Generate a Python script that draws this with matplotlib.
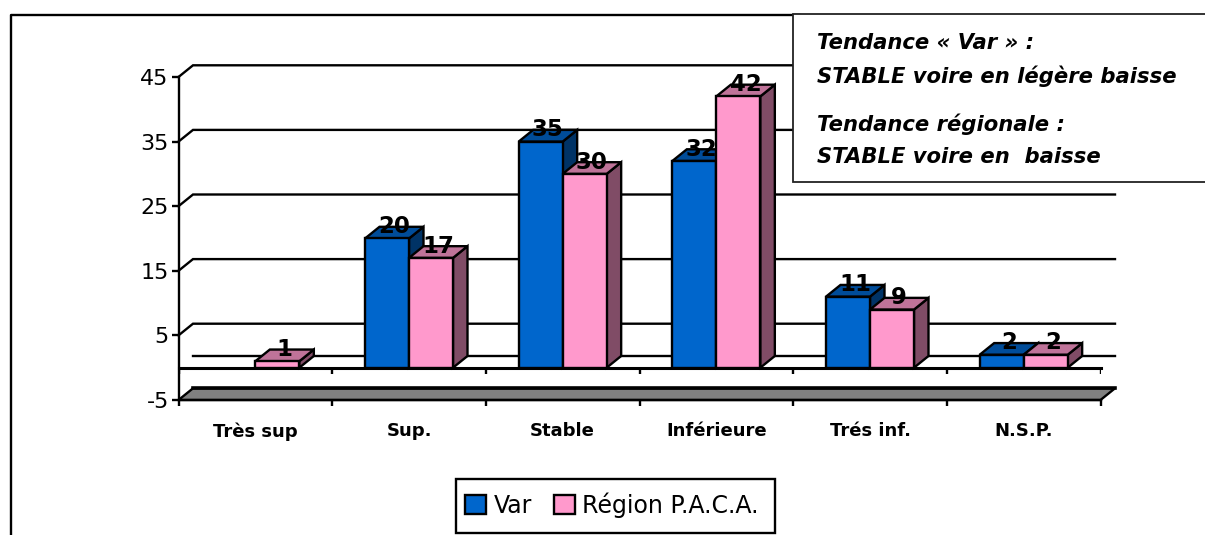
import matplotlib
matplotlib.use("Agg")
import matplotlib.pyplot as plt
from matplotlib.patches import Polygon, Patch, Rectangle
from matplotlib.lines import Line2D

categories = ["Très sup", "Sup.", "Stable", "Inférieure", "Trés inf.", "N.S.P."]
var_values = [None, 20, 35, 32, 11, 2]
paca_values = [1, 17, 30, 42, 9, 2]
series_names = ["Var", "Région P.A.C.A."]
y_ticks = [-5, 5, 15, 25, 35, 45]
note_lines = ["Tendance « Var » :", "STABLE voire en légère baisse",
              "Tendance régionale :", "STABLE voire en  baisse"]

W, H = 1205, 535
plt.rcParams["font.family"] = ["DejaVu Sans"]
plt.rcParams["axes.unicode_minus"] = False
fig = plt.figure(figsize=(W / 100, H / 100), dpi=100, facecolor="white")

# axes box in pixels: x 178.5..1100.5, y(-5)=400, y(45)=77
L, R, T, B = 178.5, 1100.5, 77, 400
ax = fig.add_axes([L / W, 1 - B / H, (R - L) / W, (B - T) / H])
ax.set_xlim(0, 6)
ax.set_ylim(-5, 45)
ax.patch.set_visible(False)
for s in ["top", "right"]:
    ax.spines[s].set_visible(False)
LW = 1.7
ax.spines["left"].set_linewidth(LW)
ax.spines["bottom"].set_linewidth(LW)

px_x = 6 / (R - L)
px_y = 50 / (B - T)
DX, DY = 14.5 * px_x, 11.7 * px_y
BW = 44 * px_x

ax.set_yticks(y_ticks)
ax.set_xticks(range(7))
ax.set_xticklabels([])
ax.set_xticks([i + 0.5 for i in range(6)], minor=True)
ax.set_xticklabels(categories, minor=True, fontweight="bold", fontsize=13)
ax.tick_params(axis="x", which="minor", length=0, pad=16)
ax.tick_params(axis="x", which="major", length=4.5, width=LW)
ax.tick_params(axis="y", length=5, width=LW, labelsize=16, pad=2)

# back wall grid lines and their diagonals
for v in y_ticks[1:]:
    ax.plot([0, DX, 6 + DX], [v, v + DY, v + DY], color="black", lw=LW, clip_on=False, zorder=1,
            solid_joinstyle="miter")
# back line of the zero plane
ax.plot([DX, 6 + DX], [DY, DY], color="black", lw=LW, clip_on=False, zorder=1)
# floor
ax.add_patch(Polygon([(0, -5), (6, -5), (6 + DX, -5 + DY), (DX, -5 + DY)], closed=True,
                     facecolor="#808080", edgecolor="black", lw=LW, clip_on=False, zorder=2))
ax.plot([DX, 6 + DX], [-5 + DY, -5 + DY], color="black", lw=2.6, clip_on=False, zorder=2.1)
# zero axis with ticks
ax.plot([0, 6], [0, 0], color="black", lw=2.2, clip_on=False, zorder=2.5)
ax.vlines(range(7), -6 * px_y, 0, color="black", lw=LW, zorder=2.5)


def bar3d(x0, v, front, top, side, z):
    x1 = x0 + BW
    kw = dict(closed=True, edgecolor="black", lw=LW, clip_on=False, zorder=z, joinstyle="miter")
    ax.add_patch(Polygon([(x1, 0), (x1 + DX, DY), (x1 + DX, v + DY), (x1, v)], facecolor=side, **kw))
    ax.add_patch(Polygon([(x0, v), (x1, v), (x1 + DX, v + DY), (x0 + DX, v + DY)], facecolor=top, **kw))
    ax.add_patch(Polygon([(x0, 0), (x1, 0), (x1, v), (x0, v)], facecolor=front, **kw))
    ax.text(x0 + BW / 2 + DX / 2, v + DY / 2 + 6 * px_y, f"{v}", ha="center", va="center",
            fontsize=16.5, fontweight="bold", zorder=10, clip_on=False)


for i, (a, b) in enumerate(zip(var_values, paca_values)):
    c = i + 0.5
    if a is not None:
        bar3d(c - BW, a, "#0066CC", "#004C99", "#003366", 3 + i * 0.1)
    if b is not None:
        bar3d(c, b, "#FF99CC", "#BF7399", "#804C66", 3.05 + i * 0.1)

# outer frame (top and left edges only)
fig.add_artist(Line2D([11 / W, 11 / W, 800 / W], [0, 1 - 15 / H, 1 - 15 / H], color="black", lw=1.7))

# note box
fig.add_artist(Rectangle((793 / W, 1 - 182 / H), 430 / W, 168 / H, facecolor="white",
                         edgecolor="#222222", lw=1.3, zorder=20, transform=fig.transFigure))
for line, y in zip(note_lines, [43, 76, 124, 157]):
    fig.text(817 / W, 1 - y / H, line, fontsize=15.2, fontweight="bold", fontstyle="oblique",
             va="center", ha="left", zorder=21)

# legend frame and legend
fig.add_artist(Rectangle((456 / W, 1 - 533 / H), 319 / W, 54 / H, facecolor="white",
                         edgecolor="black", lw=LW, zorder=5, transform=fig.transFigure))
handles = [Patch(facecolor="#0066CC", edgecolor="black", lw=LW),
           Patch(facecolor="#FF99CC", edgecolor="black", lw=LW)]
leg = fig.legend(handles, series_names, ncol=2, loc="center left",
                 bbox_to_anchor=(465 / W, 1 - 505 / H), fontsize=17, frameon=False,
                 borderpad=0, handlelength=0.9, handleheight=0.85, handletextpad=0.3,
                 columnspacing=0.95, borderaxespad=0)
leg.set_zorder(6)

fig.savefig("out.png", dpi=100)
